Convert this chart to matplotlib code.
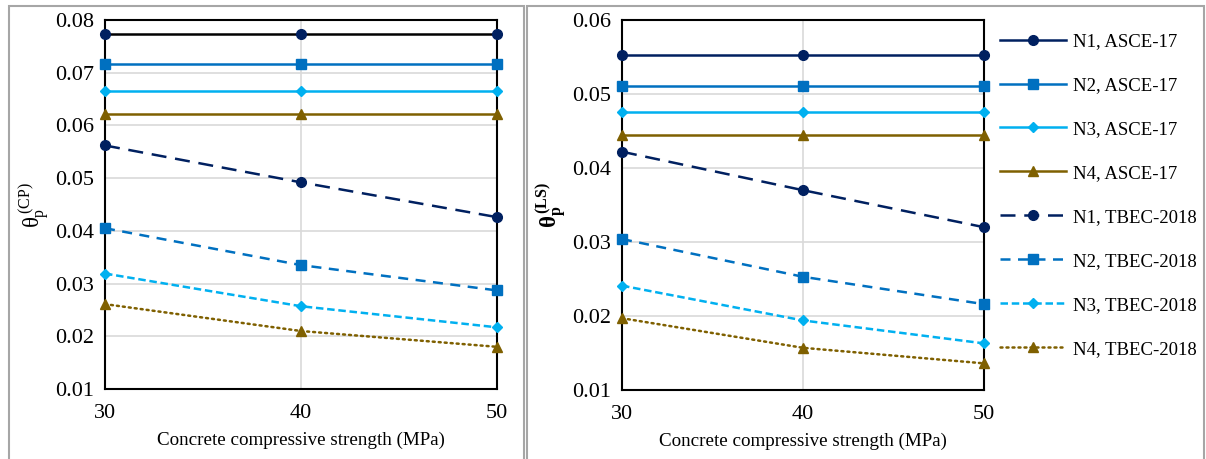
import matplotlib
matplotlib.use("Agg")
import matplotlib.pyplot as plt
from matplotlib.patches import Rectangle

plt.rcParams['font.family'] = ['Liberation Serif', 'DejaVu Serif']
plt.rcParams['mathtext.fontset'] = 'custom'
plt.rcParams['mathtext.rm'] = 'Liberation Serif'
plt.rcParams['mathtext.it'] = 'Liberation Serif'
plt.rcParams['mathtext.bf'] = 'Liberation Serif:bold'

fc = [30, 40, 50]
labels = ['N1, ASCE-17', 'N2, ASCE-17', 'N3, ASCE-17', 'N4, ASCE-17',
          'N1, TBEC-2018', 'N2, TBEC-2018', 'N3, TBEC-2018', 'N4, TBEC-2018']

# left panel: theta_p (CP)
cp_asce = [[0.0773] * 3, [0.0716] * 3, [0.0665] * 3, [0.0621] * 3]
cp_tbec = [[0.0562, 0.0492, 0.0426],
           [0.0405, 0.0335, 0.0287],
           [0.0319, 0.0257, 0.0217],
           [0.0261, 0.0210, 0.0180]]

# right panel: theta_p (LS)
ls_asce = [[0.0553] * 3, [0.0511] * 3, [0.0476] * 3, [0.0445] * 3]
ls_tbec = [[0.0422, 0.0370, 0.0320],
           [0.0304, 0.0253, 0.0216],
           [0.0241, 0.0194, 0.0163],
           [0.0197, 0.0157, 0.0136]]

colors = ['#002060', '#0070C0', '#00B0F0', '#7F6000']
markers = ['o', 's', 'D', '^']
msizes = [7, 7, 5.5, 7]
dashes = [(6, 3.5), (4, 3), (3, 1.5), (0.8, 1.6)]

fig = plt.figure(figsize=(12.06, 4.59), dpi=100)
fig.patches.append(Rectangle((9 / 1206, -0.05), 515 / 1206, 1.05 - 6 / 459,
                             transform=fig.transFigure, fill=False,
                             edgecolor='#a6a6a6', lw=1.5))
fig.patches.append(Rectangle((527 / 1206, -0.05), 677 / 1206, 1.05 - 6 / 459,
                             transform=fig.transFigure, fill=False,
                             edgecolor='#a6a6a6', lw=1.5))

ax1 = fig.add_axes([105 / 1206, 1 - 389 / 459, 392 / 1206, 369 / 459])
ax2 = fig.add_axes([622 / 1206, 1 - 390 / 459, 362 / 1206, 370 / 459])


def draw(ax, asce, tbec, first_color):
    handles = []
    for i in range(4):
        lc = colors[i]
        if i == 0 and first_color is not None:
            lc = first_color
        h, = ax.plot(fc, asce[i], color=lc, lw=1.8, marker=markers[i],
                     ms=msizes[i], mfc=colors[i], mec=colors[i], clip_on=False,
                     zorder=3)
        handles.append(h)
    for i in range(4):
        h, = ax.plot(fc, tbec[i], color=colors[i], lw=1.8, marker=markers[i],
                     ms=msizes[i], mfc=colors[i], mec=colors[i], clip_on=False,
                     dashes=dashes[i], zorder=3)
        if i == 3:
            h.set_dash_capstyle('round')
        handles.append(h)
    ax.set_xlim(30, 50)
    ax.set_xticks(fc)
    ax.grid(True, color='#d9d9d9', lw=1.2)
    ax.set_axisbelow(True)
    ax.tick_params(axis='y', length=0, labelsize=16, pad=8)
    ax.tick_params(axis='x', length=0, labelsize=16, pad=11)
    for s in ax.spines.values():
        s.set_color('black')
        s.set_linewidth(1.5)
    ax.set_xlabel('Concrete compressive strength (MPa)', fontsize=13.7, labelpad=6)
    return handles


draw(ax1, cp_asce, cp_tbec, '#000000')
ax1.set_ylim(0.01, 0.08)
ax1.set_yticks([0.01, 0.02, 0.03, 0.04, 0.05, 0.06, 0.07, 0.08])
ax1.set_yticklabels(['0.01', '0.02', '0.03', '0.04', '0.05', '0.06', '0.07', '0.08'])
ax1.set_ylabel(r'$\theta_\mathrm{p}^{\,\mathrm{(CP)}}$', fontsize=16.5, labelpad=2)

hs = draw(ax2, ls_asce, ls_tbec, None)
ax2.set_ylim(0.01, 0.06)
ax2.set_yticks([0.01, 0.02, 0.03, 0.04, 0.05, 0.06])
ax2.set_yticklabels(['0.01', '0.02', '0.03', '0.04', '0.05', '0.06'])
ax2.set_ylabel(r'$\mathbf{\theta_{p}^{\,(LS)}}$', fontsize=16.5, labelpad=2)

fig.legend(hs, labels, loc='upper left', bbox_to_anchor=(1000 / 1206, 1 - 33 / 459),
           frameon=False, fontsize=13.5, handlelength=3.5, labelspacing=1.43,
           handletextpad=0.4, borderaxespad=0, borderpad=0)

fig.savefig('out.png', dpi=100)
